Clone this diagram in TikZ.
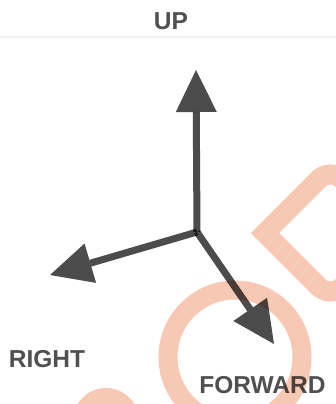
\documentclass[tikz,border=0pt]{standalone}
\usepackage{fontspec}
\setmainfont{Liberation Sans}
\usetikzlibrary{arrows.meta}
\definecolor{wmcol}{HTML}{F7C8B4}
\definecolor{axiscol}{HTML}{4C4C4C}
\definecolor{labelcol}{HTML}{505050}
\begin{document}
\begin{tikzpicture}[x=1pt,y=-1pt,
  wm/.style={draw=wmcol},
  axis/.style={draw=axiscol, line width=7pt, blend mode=multiply,
    -{Triangle[length=42pt,width=41pt,line width=0pt,fill=axiscol]}},
  lbl/.style={inner sep=0pt, text=labelcol, blend mode=multiply,
    font=\fontsize{24.5}{24.5}\selectfont\bfseries}]
\useasboundingbox[fill=white] (0,0) rectangle (336,404);
% faint scan line
\draw[draw=black!5, line width=2pt] (0,37) -- (336,37);
% watermark
\begin{scope}
\clip (0,0) rectangle (336,404);
\draw[wm, line width=19pt] (235,357) circle (67);
\draw[wm, line width=20pt, miter limit=4]
  (265,233) -- (303,195) [rounded corners=16pt] -- (330,168) -- (400,233) -- (330,298) [sharp corners] -- (303,271) -- cycle;
\fill[wmcol] (106,421) circle (33);
\end{scope}
% axes
\coordinate (o) at (197,232);
\coordinate (up) at (196,70);
\coordinate (right) at (50,275);
\coordinate (fwd) at (274,344);
\draw[axis] (o) -- (up);
\draw[axis] (o) -- (right);
\draw[axis] (o) -- (fwd);
% labels
\node[lbl] (lup) at (171,21) {UP};
\node[lbl] (lright) at (47,359) {RIGHT};
\node[lbl] (lfwd) at (262.5,385) {FORWARD};
\end{tikzpicture}
\end{document}
